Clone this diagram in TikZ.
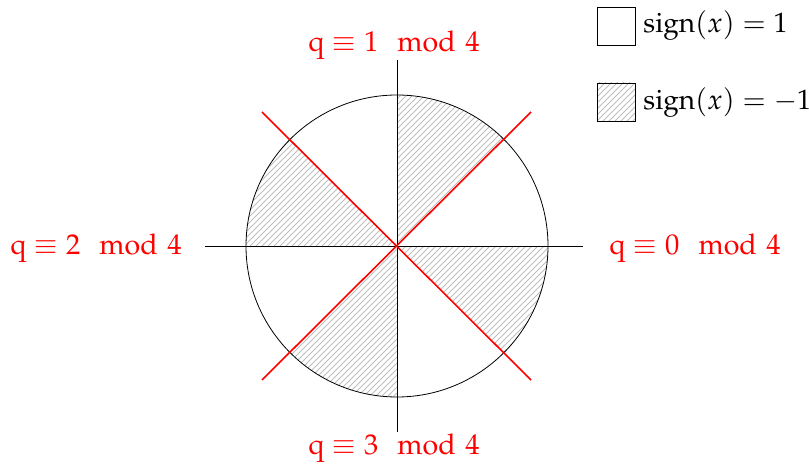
\documentclass[tikz,border=0pt]{standalone}
\usepackage{amsmath}
\usepackage{mathpazo}
\usetikzlibrary{patterns,calc}
\tikzset{
  axis/.style={black, line width=0.4pt},
  redline/.style={red, line width=0.8pt},
  hatch/.style={pattern=north east lines, pattern color=gray!50},
  lab/.style={red, inner sep=0pt, font=\fontsize{14.3}{17}\selectfont},
  legbox/.style={draw=black, line width=0.4pt, minimum width=19pt, minimum height=19pt, inner sep=0pt},
  legtext/.style={inner sep=0pt, anchor=base west, font=\fontsize{14}{17}\selectfont}
}
\begin{document}
\begin{tikzpicture}[x=0.5pt, y=0.5pt]
\useasboundingbox (0,0) rectangle (809,466);
\coordinate (O) at (397,220);
% hatched sectors
\foreach \a in {45,135,225,315}{
  \fill[hatch] (O) -- ([shift={(\a:151)}]O) arc[start angle=\a, delta angle=45, radius=151] -- cycle;
}
\draw[axis] (O) circle[radius=151];
\coordinate (W) at (205,220);
\coordinate (E) at (583,220);
\coordinate (N) at (397,406);
\coordinate (S) at (397,34);
\draw[axis] (W) -- (E);
\draw[axis] (N) -- (S);
\coordinate (NE) at ($(O)+(134,134)$);
\coordinate (SW) at ($(O)+(-135,-134)$);
\coordinate (NW) at ($(O)+(-135,134)$);
\coordinate (SE) at ($(O)+(134,-134)$);
\draw[redline] (SW) -- (NE);
\draw[redline] (NW) -- (SE);
% labels
\node[lab, anchor=base west] (l0) at (609,211) {$\mathrm{q} \equiv 0 \mod 4$};
\node[lab, anchor=base east] (l2) at (182,211) {$\mathrm{q} \equiv 2 \mod 4$};
\node[lab, anchor=base] (l1) at (394,414) {$\mathrm{q} \equiv 1 \mod 4$};
\node[lab, anchor=base] (l3) at (394,11) {$\mathrm{q} \equiv 3 \mod 4$};
% legend
\node[legbox] (b1) at (616,440) {};
\node[legbox, hatch] (b2) at (616,364) {};
\node[legtext] (t1) at (643,433) {$\mathrm{sign}(x) = 1$};
\node[legtext] (t2) at (643,356) {$\mathrm{sign}(x) = -1$};
\end{tikzpicture}
\end{document}
